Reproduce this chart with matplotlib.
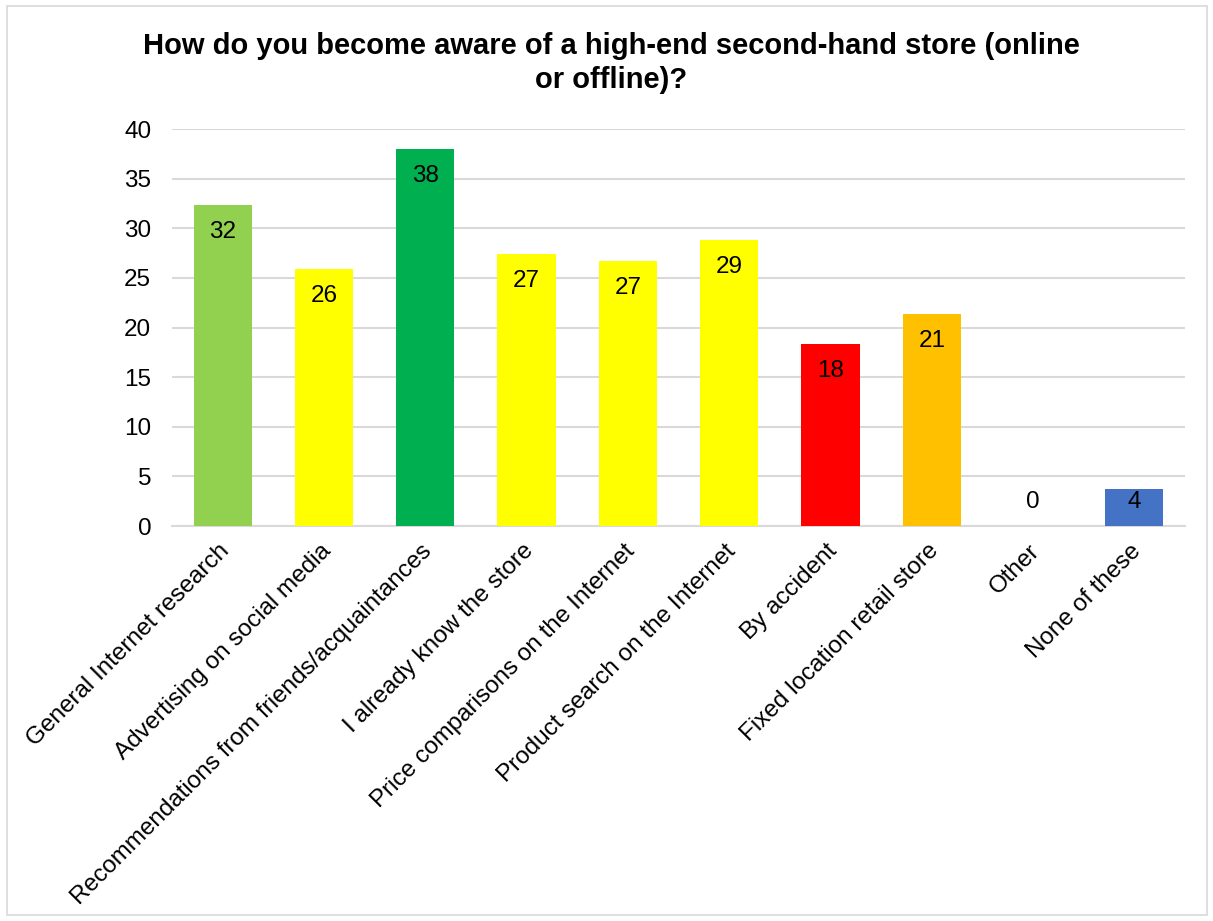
import matplotlib
matplotlib.use("Agg")
import matplotlib.pyplot as plt
from matplotlib.patches import Rectangle
from matplotlib.transforms import ScaledTranslation

categories = [
    "General Internet research",
    "Advertising on social media",
    "Recommendations from friends/acquaintances",
    "I already know the store",
    "Price comparisons on the Internet",
    "Product search on the Internet",
    "By accident",
    "Fixed location retail store",
    "Other",
    "None of these",
]
values = [32.3, 25.9, 38.0, 27.4, 26.7, 28.8, 18.3, 21.4, 0.0, 3.7]
labels = ["32", "26", "38", "27", "27", "29", "18", "21", "0", "4"]
colors = ["#92D050", "#FFFF00", "#00B050", "#FFFF00", "#FFFF00", "#FFFF00",
          "#FF0000", "#FFC000", "#FFFF00", "#4472C4"]
yticks = [0, 5, 10, 15, 20, 25, 30, 35, 40]
title = "How do you become aware of a high-end second-hand store (online\nor offline)?"

plt.rcParams['font.family'] = ['Liberation Sans', 'DejaVu Sans']

W, H = 1213, 921
fig = plt.figure(figsize=(W / 100, H / 100), dpi=100)
fig.patches.append(Rectangle((7 / W, 6 / H), 1 - 13 / W, 1 - 12 / H, transform=fig.transFigure,
                             fill=False, edgecolor="#d9d9d9", linewidth=1.2))

ax = fig.add_axes([172 / W, 1 - 526 / H, (1185 - 172) / W, (526 - 129) / H])
x = list(range(len(categories)))
ax.bar(x, values, width=0.575, color=colors, zorder=3)
ax.set_xlim(-0.5, len(categories) - 0.5)
ax.set_ylim(0, 40)
ax.set_yticks(yticks)
ax.yaxis.grid(True, color="#d9d9d9", linewidth=1.5, zorder=0)
for s in ["top", "right", "left"]:
    ax.spines[s].set_visible(False)
ax.spines["bottom"].set_color("#d9d9d9")
ax.spines["bottom"].set_linewidth(1.5)
ax.tick_params(axis="y", length=0, labelsize=17.5, pad=15, labelcolor="#000000")
ax.tick_params(axis="x", length=0, labelsize=17.5, pad=10)
ax.set_xticks(x)
ax.set_xticklabels(categories, rotation=45, ha="right", va="top", rotation_mode="anchor")
off = ScaledTranslation(-3 / 72, 0, fig.dpi_scale_trans)
for t in ax.get_xticklabels():
    t.set_transform(t.get_transform() + off)

fig.canvas.draw()
inv = ax.transData.inverted()
for xi, v, lab in zip(x, values, labels):
    top = ax.transData.transform((xi, v))[1]
    base = ax.transData.transform((xi, 0))[1]
    yd = max(top - 27, base + 24)
    yy = inv.transform((0, yd))[1]
    ax.text(xi, yy, lab, ha="center", va="center", fontsize=17.5, color="#000000", zorder=4)

fig.text(611 / W, 1 - 63 / H, title, ha="center", va="center", fontsize=21,
         fontweight="bold", linespacing=1.25)

fig.savefig("out.png", dpi=100)
